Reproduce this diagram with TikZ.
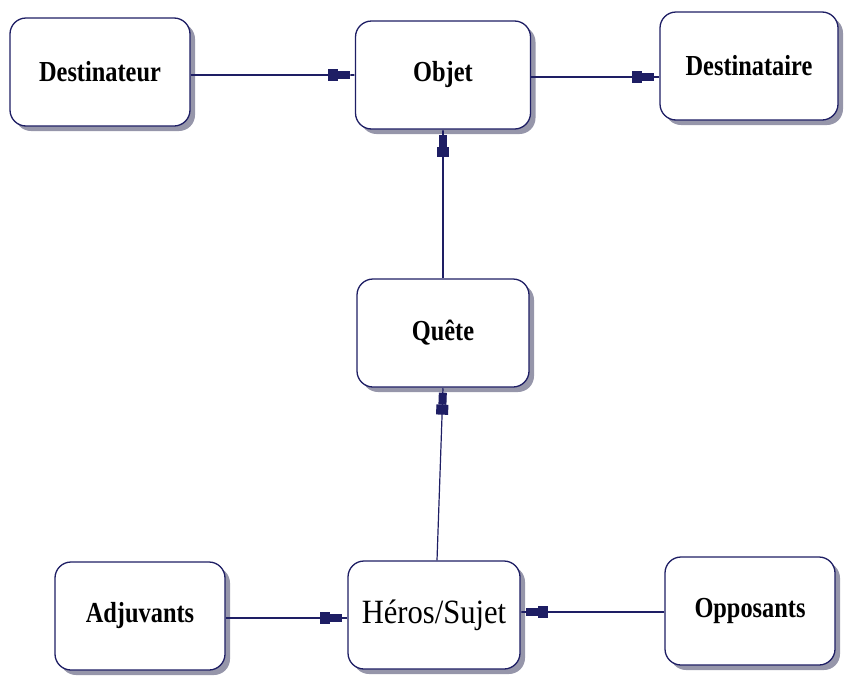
\documentclass[tikz,border=0pt]{standalone}
\usepackage{fontspec}
\setmainfont{Liberation Serif}
\newfontfamily\boxfont{Liberation Serif}[FakeStretch=0.84]
\newfontfamily\herofont{Liberation Serif}[FakeStretch=0.9]
\usetikzlibrary{arrows.meta,shadows}

\definecolor{navy}{RGB}{30,30,100}
\definecolor{shadowgray}{RGB}{150,150,170}

\begin{document}
\begin{tikzpicture}[x=1pt,y=-1pt,
    actant/.style={draw=navy, fill=white, line width=1.3pt, rounded corners=16pt,
        minimum width=172pt, minimum height=108pt,
        drop shadow={shadow xshift=5pt, shadow yshift=-5pt, fill=shadowgray, opacity=1},
        font=\boxfont\bfseries\fontsize{29}{32}\selectfont},
    link/.style={draw=navy, line width=1.2pt,
        -{Rectangle[length=10pt,width=12pt,sep=0pt]Rectangle[length=12pt,width=8pt,sep=0pt]Rectangle[length=5pt,width=1.2pt,sep=0pt]}}]
    \useasboundingbox (0,0) rectangle (845,675);
    \node[actant, minimum width=180pt] (destinateur) at (100,72) {Destinateur};
    \node[actant, minimum width=175pt] (objet) at (443,75) {Objet};
    \node[actant, minimum width=178pt] (destinataire) at (749,66) {Destinataire};
    \node[actant] (quete) at (443,333) {Quête};
    \node[actant, font=\herofont\fontsize{34}{38}\selectfont] (heros) at (434,615) {Héros/Sujet};
    \node[actant, minimum width=170pt] (adjuvants) at (140,616) {Adjuvants};
    \node[actant, minimum width=170pt] (opposants) at (750,611) {Opposants};
    \draw[link] (destinateur.east |- 0,75) -- (objet.west);
    \draw[link] (objet.east |- 0,77) -- (destinataire.west |- 0,77);
    \draw[link] (quete.north) -- (objet.south);
    \draw[link] ([xshift=3pt]heros.north) -- (quete.south);
    \draw[link] (adjuvants.east |- 0,618) -- (heros.west |- 0,618);
    \draw[link] (opposants.west |- 0,612) -- (heros.east |- 0,612);
\end{tikzpicture}
\end{document}
